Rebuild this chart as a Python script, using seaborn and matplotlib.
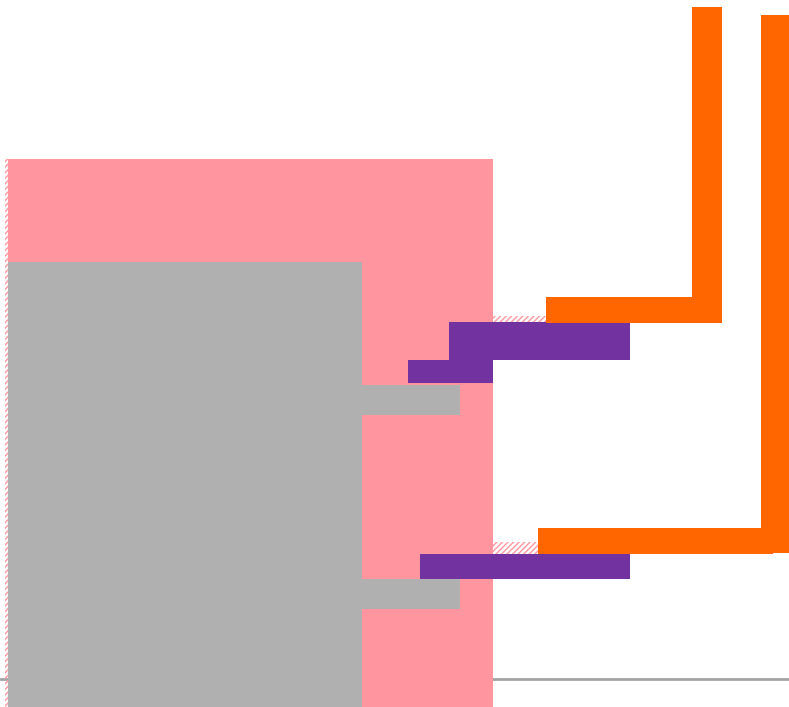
import seaborn as sns
import matplotlib.pyplot as plt

# value scale runs 0..789 across and 0..707 down
x_max, y_max = 789, 707
baseline = 679

# broad background blocks: (left, right, top, bottom)
pink_block = (8, 493, 159, 707)
grey_block = (8, 362, 262, 707)

# horizontal bars: left, right, top, bottom
grey_left = [8, 8]
grey_right = [460, 460]
grey_top = [385, 579]
grey_bottom = [415, 609]

purple_left = [449, 408, 420]
purple_right = [630, 493, 630]
purple_top = [322, 360, 554]
purple_bottom = [360, 383, 579]

orange_h_left = [546, 538]
orange_h_right = [722, 773]
orange_h_top = [297, 528]
orange_h_bottom = [323, 554]

# vertical orange columns: left, right, top, bottom
orange_v_left = [692, 761]
orange_v_right = [722, 789]
orange_v_top = [7, 15]
orange_v_bottom = [323, 553]

# hatched pink strips: left, right, top, bottom
hatch_left = [5, 493, 493]
hatch_right = [8, 546, 538]
hatch_top = [159, 316, 542]
hatch_bottom = [707, 322, 554]

PINK = '#ff969f'
GREY = '#b0b0b0'
PURPLE = '#7232a0'
ORANGE = '#ff6600'

sns.set_theme(style="white")

fig = plt.figure(figsize=(7.89, 7.07), dpi=100)
ax = fig.add_axes([0, 0, 1, 1])


def hbars(left, right, top, bottom, color, **kw):
    centers = [(t + b) / 2 for t, b in zip(top, bottom)]
    widths = [r - l for l, r in zip(left, right)]
    heights = [b - t for t, b in zip(top, bottom)]
    ax.barh(centers, widths, left=left, height=heights, color=color,
            linewidth=0, **kw)


ax.axhline(baseline, color='#a3a3a3', lw=2, zorder=0)

# hatched strips
cx = [(l + r) / 2 for l, r in zip(hatch_left, hatch_right)]
ax.barh([(t + b) / 2 for t, b in zip(hatch_top, hatch_bottom)],
        [r - l for l, r in zip(hatch_left, hatch_right)],
        left=hatch_left,
        height=[b - t for t, b in zip(hatch_top, hatch_bottom)],
        facecolor='none', edgecolor=PINK, hatch='//////', linewidth=0,
        zorder=1)

hbars([pink_block[0]], [pink_block[1]], [pink_block[2]], [pink_block[3]],
      PINK, zorder=2)
hbars([grey_block[0]], [grey_block[1]], [grey_block[2]], [grey_block[3]],
      GREY, zorder=3)
hbars(grey_left, grey_right, grey_top, grey_bottom, GREY, zorder=3)
hbars(purple_left, purple_right, purple_top, purple_bottom, PURPLE, zorder=4)
hbars(orange_h_left, orange_h_right, orange_h_top, orange_h_bottom, ORANGE,
      zorder=4)

ax.bar([(l + r) / 2 for l, r in zip(orange_v_left, orange_v_right)],
       [b - t for t, b in zip(orange_v_top, orange_v_bottom)],
       bottom=orange_v_top,
       width=[r - l for l, r in zip(orange_v_left, orange_v_right)],
       color=ORANGE, linewidth=0, zorder=4)

ax.set_xlim(0, x_max)
ax.set_ylim(y_max, 0)
ax.axis('off')

fig.savefig('out.png', dpi=100)
